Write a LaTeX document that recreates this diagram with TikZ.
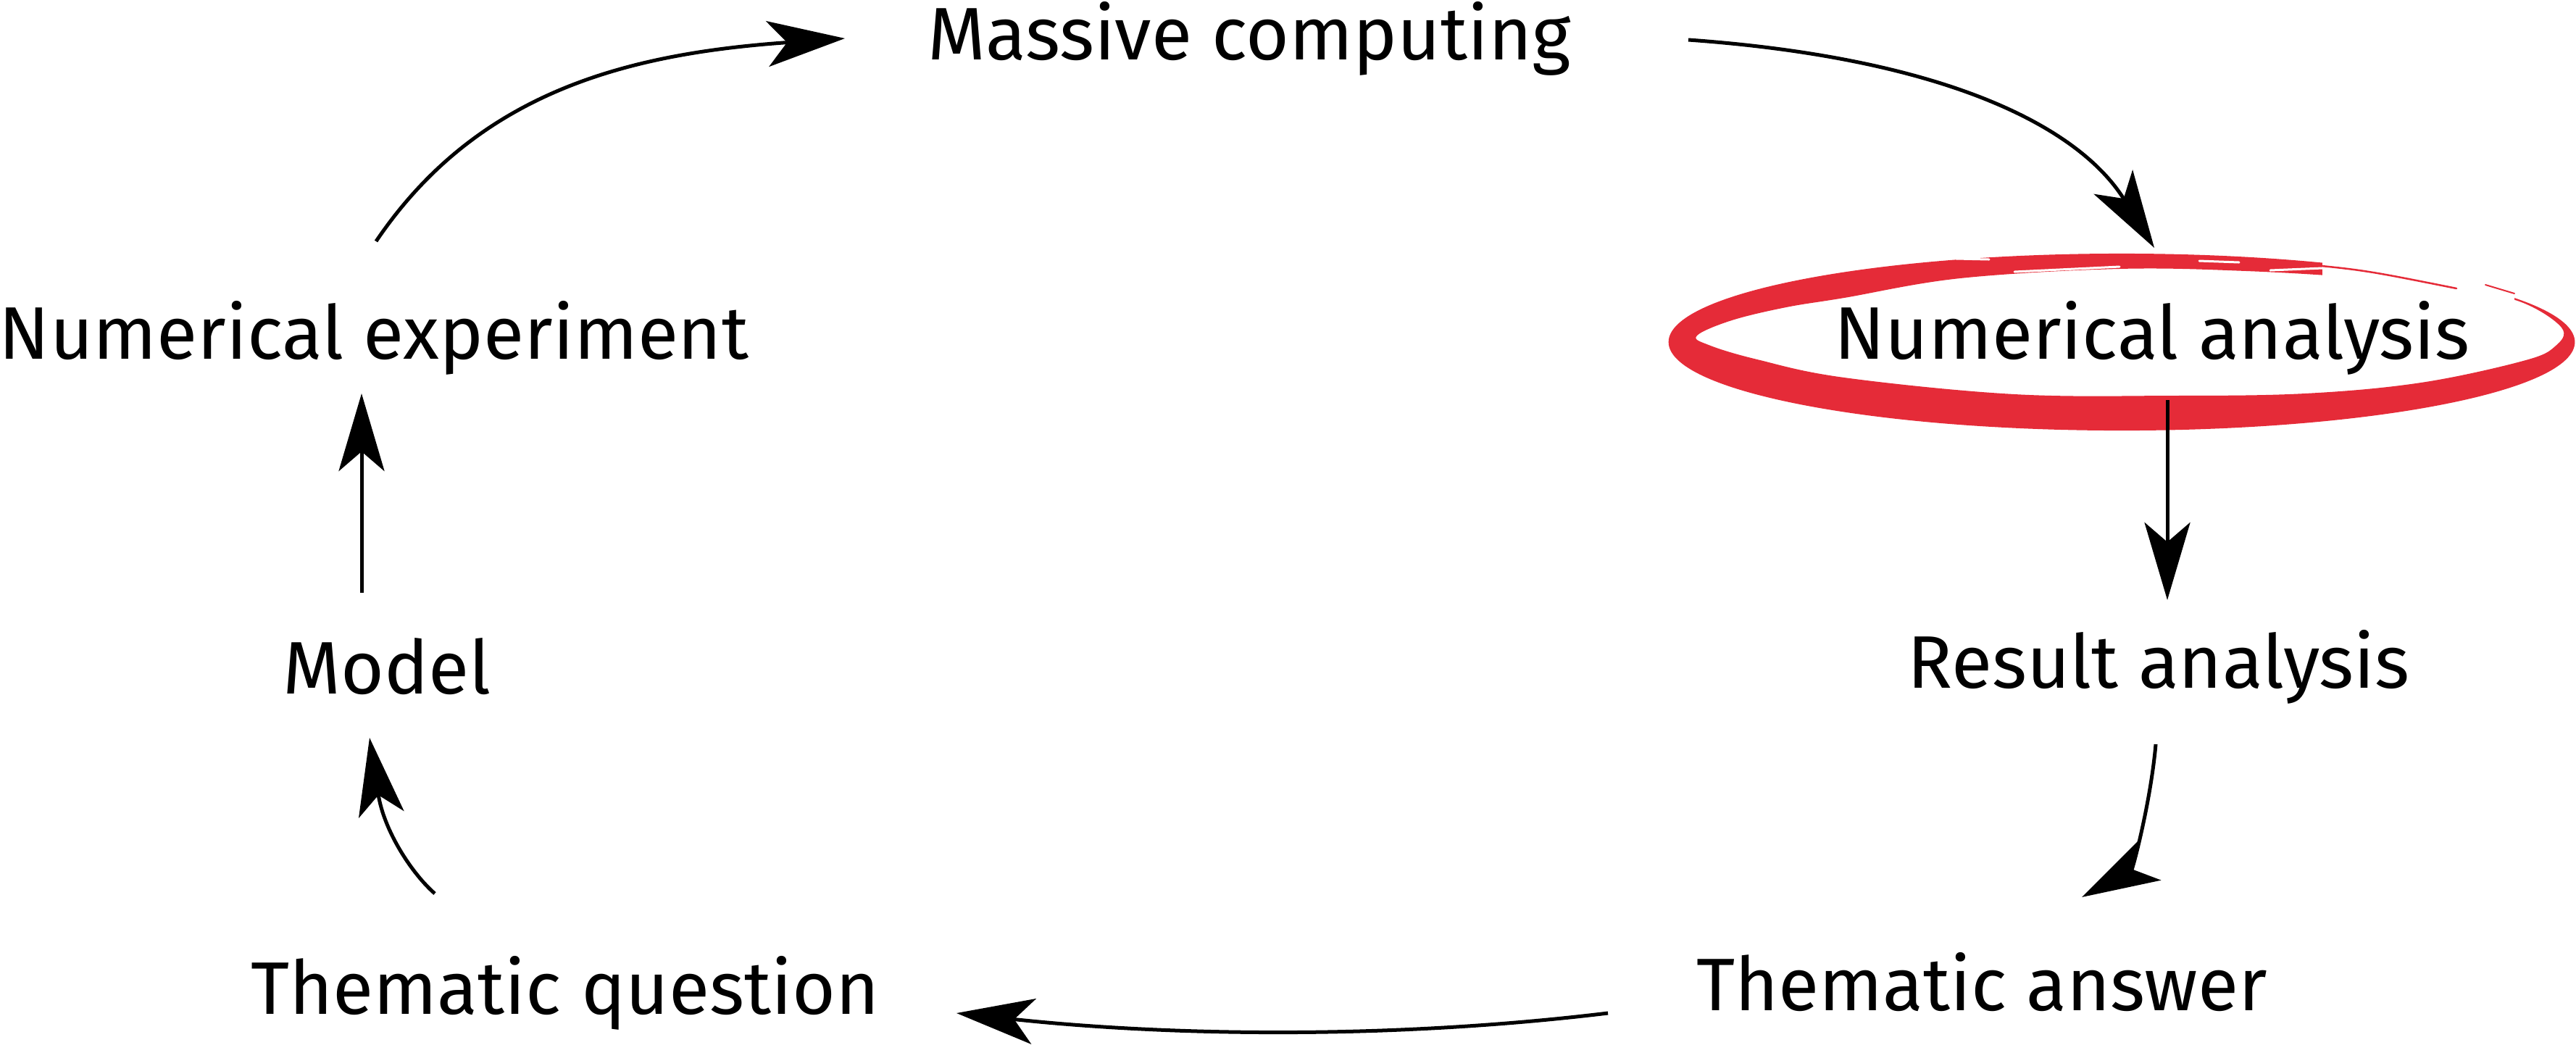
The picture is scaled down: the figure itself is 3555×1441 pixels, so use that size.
\documentclass[tikz,border=0pt]{standalone}
\usepackage{fontspec}
\setmainfont{Fira Sans}
\usetikzlibrary{arrows.meta,calc}
\definecolor{brushred}{RGB}{229,43,56}

\begin{document}
\begin{tikzpicture}[x=0.01cm,y=-0.01cm,
  stage/.style={inner sep=0pt, outer sep=0pt, anchor=base,
    text height=0.78cm, text depth=0.22cm,
    font=\fontsize{29.2pt}{36pt}\selectfont},
  flow/.style={line width=0.05cm,
    -{Stealth[length=1.07cm,width=0.63cm,inset=0.27cm]}},
  streak/.style={white, line width=0.03cm, line cap=round}
]
\useasboundingbox (0,0) rectangle (3555,1441);

% brush-stroke ring around the highlighted stage
\fill[brushred, even odd rule]
  (2928,472) ellipse [x radius=6.25cm, y radius=1.22cm]
  plot[smooth cycle, tension=0.6] coordinates {
    (2342,463) (2390,442) (2465,424) (2545,411) (2705,384) (2924,371)
    (3100,374) (3261,384) (3389,400) (3477,416) (3535,452) (3526,478)
    (3482,498) (3341,528) (3181,543) (2997,546) (2780,544) (2545,521)
    (2425,496) (2358,476)};
% dry-brush gaps in the upper stroke
\fill[white] (3205,348) -- (3470,393) -- (3470,420) -- (3205,382) -- cycle;
\draw[brushred, line width=0.025cm, line cap=round]
  (3150,362) .. controls (3260,372) .. (3390,398);
\draw[brushred, line width=0.02cm, line cap=round]
  (3430,393) -- (3470,405);
\draw[streak] (2700,357) -- (2745,358);
\draw[streak] (2780,375) -- (2925,368);
\draw[streak] (3133,373) -- (3205,370);
\draw[streak] (3035,360) -- (3090,362);

% stages of the cycle
\node[stage] (mc) at (1724,82)   {Massive computing};
\node[stage] (ne) at (516,495)   {Numerical experiment};
\node[stage] (na) at (2970,495)  {Numerical analysis};
\node[stage] (md) at (534,957)   {Model};
\node[stage] (ra) at (2979,949)  {Result analysis};
\node[stage] (tq) at (780,1399)  {Thematic question};
\node[stage] (ta) at (2735,1394) {Thematic answer};

% connectors
\draw[flow] ([shift={(3,-84)}]ne.north)
  .. controls +(140,-207) and +(-299,21) .. ([shift={(-558,-1)}]mc.center);
\draw[flow] ([shift={(606,1)}]mc.center)
  .. controls +(349,25) and +(-106,-170) .. ([shift={(3,-75)}]na.north);
\draw[flow] ([shift={(21,35)}]na.south) -- ([shift={(12,-43)}]ra.north);
\draw[flow] ([shift={(-4,56)}]ra.south)
  .. controls +(-7,80) and +(70,-38) .. ([shift={(138,-78)}]ta.north);
\draw[flow] ([shift={(-516,32)}]ta.center)
  .. controls +(-298,36) and +(298,32) .. ([shift={(540,27)}]tq.center);
\draw[flow] ([shift={(-180,-88)}]tq.north)
  .. controls +(-30,-26) and +(20,130) .. ([shift={(-24,39)}]md.south);
\draw[flow] ([shift={(-35,-61)}]md.north) -- ([shift={(-17,26)}]ne.south);
\end{tikzpicture}
\end{document}
